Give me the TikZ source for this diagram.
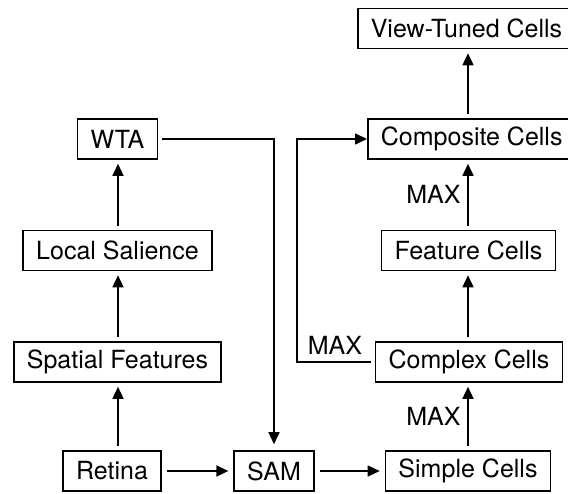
\documentclass[tikz,border=0pt]{standalone}
\usepackage{fontspec}
\setmainfont{TeX Gyre Heros}
\usetikzlibrary{arrows.meta}
\tikzset{
	box/.style={draw, line width=0.8pt, minimum height=20pt, inner xsep=6.5pt, font=\fontsize{12.5}{14}\selectfont},
	lbl/.style={font=\fontsize{12.5}{14}\selectfont},
	arr/.style={line width=0.8pt, -{Triangle[length=6pt,width=5.5pt]}, shorten <=2pt, shorten >=2pt}
}
\begin{document}
\begin{tikzpicture}[x=0.5pt,y=-0.5pt]
		\useasboundingbox (0,0) rectangle (568,493);
		\coordinate (lc) at (118,0);
		\coordinate (rc) at (468,0);
		\coordinate (bend) at (297,0);
		\node[box] (ret) at (112,471) {Retina};
		\node[box] (sam) at (274,471) {SAM};
		\node[box] (simp) at (468,471) {Simple Cells};
		\node[box] (spat) at (117.5,362) {Spatial Features};
		\node[box] (cplx) at (469,362) {Complex Cells};
		\node[box] (sal) at (117.5,250.5) {Local Salience};
		\node[box] (feat) at (468.5,250.5) {Feature Cells};
		\node[box] (wta) at (117.5,139) {WTA};
		\node[box, anchor=west] (comp) at (367,139) {Composite Cells};
		\node[box, anchor=west] (vtc) at (357,28.5) {View-Tuned Cells};
		\draw[arr, shorten <=2.5pt, shorten >=2.5pt] (ret) -- (sam);
		\draw[arr, shorten <=2.5pt, shorten >=2.5pt] (sam) -- (simp);
		\draw[arr] (ret.north -| lc) -- (spat.south -| lc);
		\draw[arr] (spat.north -| lc) -- (sal.south -| lc);
		\draw[arr] (sal.north -| lc) -- (wta.south -| lc);
		\draw[arr, shorten >=3pt] (wta) -| (sam);
		\draw[arr] (simp.north -| rc) -- node[lbl, left]{MAX} (cplx.south -| rc);
		\draw[arr] (cplx.north -| rc) -- (feat.south -| rc);
		\draw[arr] (feat.north -| rc) -- node[lbl, left]{MAX} (comp.south -| rc);
		\draw[arr] (comp.north -| rc) -- (vtc.south -| rc);
		\draw[arr, shorten >=0pt] (cplx.west) -- (cplx.west -| bend) |- (comp.west);
		\node[lbl] (maxc) at (335,345) {MAX};
\end{tikzpicture}
\end{document}
